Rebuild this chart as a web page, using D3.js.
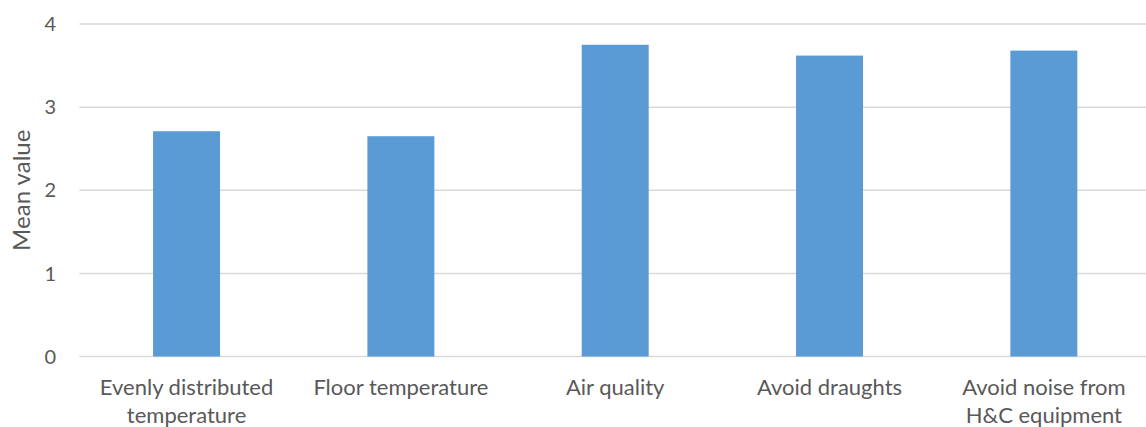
<!DOCTYPE html>
<html>
<head>
<meta charset="utf-8">
<script src="https://cdn.jsdelivr.net/npm/d3@7"></script>
<style>
  html, body { margin: 0; padding: 0; background: #fff; }
  svg { display: block; }
  text { font-family: Lato, "Open Sans", sans-serif; fill: #595959; }
</style>
</head>
<body>
<svg id="chart" width="1146" height="427"></svg>
<script>
// Survey: mean importance rating per indoor-climate aspect
const categories = [
  ["Evenly distributed", "temperature"],
  ["Floor temperature"],
  ["Air quality"],
  ["Avoid draughts"],
  ["Avoid noise from", "H&C equipment"]
];
const meanValues = [2.71, 2.65, 3.75, 3.62, 3.68];
const yTicks = [0, 1, 2, 3, 4];
const yTitle = "Mean value";

const svg = d3.select("#chart");
const margin = { left: 79.4, right: -5, top: 24, bottom: 70.5 };
const W = 1146, H = 427;

const keys = categories.map(c => c.join(" "));
const x = d3.scaleBand()
  .domain(keys)
  .range([margin.left, W - margin.right])
  .paddingInner(0.6875)
  .paddingOuter(0.34375);

const y = d3.scaleLinear()
  .domain([0, 4])
  .range([H - margin.bottom, margin.top]);

// horizontal gridlines
svg.append("g")
  .selectAll("line")
  .data(yTicks)
  .join("line")
  .attr("x1", margin.left)
  .attr("x2", W)
  .attr("y1", d => y(d))
  .attr("y2", d => y(d))
  .attr("stroke", "#d9d9d9")
  .attr("stroke-width", 1.5);

// y tick labels
svg.append("g")
  .selectAll("text")
  .data(yTicks)
  .join("text")
  .attr("x", 56)
  .attr("y", d => y(d))
  .attr("dy", "0.36em")
  .attr("text-anchor", "end")
  .style("font-size", "20px")
  .text(d => d);

// bars
svg.append("g")
  .selectAll("rect")
  .data(meanValues)
  .join("rect")
  .attr("x", (d, i) => x(keys[i]))
  .attr("width", x.bandwidth())
  .attr("y", d => y(d))
  .attr("height", d => y(0) - y(d))
  .attr("fill", "#5b9bd5");

// category labels (wrapped)
const labels = svg.append("g")
  .selectAll("text")
  .data(categories)
  .join("text")
  .attr("text-anchor", "middle")
  .style("font-size", "22px")
  .attr("transform", (d, i) => `translate(${x(keys[i]) + x.bandwidth() / 2},${y(0) + 38.5})`);
labels.selectAll("tspan")
  .data(d => d)
  .join("tspan")
  .attr("x", 0)
  .attr("y", (d, i) => i * 28)
  .text(d => d);

// y-axis title
svg.append("text")
  .attr("transform", `translate(30,${(y(0) + y(4)) / 2}) rotate(-90)`)
  .attr("text-anchor", "middle")
  .style("font-size", "24px")
  .text(yTitle);
</script>
</body>
</html>
